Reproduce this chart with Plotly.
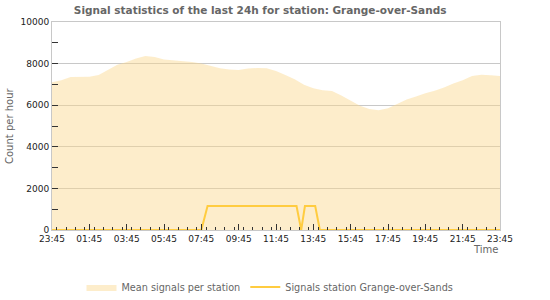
import plotly.graph_objects as go
import pandas as pd

# Mean signals per station (half-hourly, starting 23:45)
mean_times = pd.date_range("2024-01-01 23:45", "2024-01-02 23:45", freq="30min")
mean_values = [7100, 7200, 7360, 7370, 7370, 7450, 7720, 7950, 8080, 8250,
               8360, 8320, 8200, 8160, 8140, 8080, 8000, 7880, 7780, 7720,
               7690, 7760, 7790, 7780, 7650, 7450, 7250, 6980, 6820, 6720,
               6680, 6470, 6240, 5970, 5820, 5760, 5850, 6080, 6280, 6420,
               6580, 6700, 6850, 7040, 7200, 7400, 7460, 7440, 7400]

# Signals station Grange-over-Sands
station_times = ["2024-01-01 23:45", "2024-01-02 07:45", "2024-01-02 08:05",
                 "2024-01-02 12:51", "2024-01-02 13:06", "2024-01-02 13:18",
                 "2024-01-02 13:51", "2024-01-02 14:06", "2024-01-02 23:45"]
station_values = [0, 0, 1150, 1150, 0, 1150, 1150, 0, 0]

title_text = "Signal statistics of the last 24h for station: Grange-over-Sands"

fig = go.Figure()
fig.add_trace(go.Scatter(
    x=mean_times, y=mean_values, name="Mean signals per station",
    mode="lines", line=dict(width=0, color="rgba(250,215,140,0.45)"),
    fill="tozeroy", fillcolor="rgba(250,215,140,0.45)",
))
fig.add_trace(go.Scatter(
    x=pd.to_datetime(station_times), y=station_values,
    name="Signals station Grange-over-Sands",
    mode="lines", line=dict(width=2, color="#FFCC40"),
))

fig.update_layout(
    width=550, height=300,
    margin=dict(l=52, r=50, t=22, b=70, autoexpand=False),
    paper_bgcolor="white", plot_bgcolor="white",
    font=dict(family="DejaVu Sans", size=9, color="#222"),
    title=dict(text=title_text, x=0.473, xanchor="center", y=0.965, yanchor="middle",
               font=dict(family="DejaVu Sans", size=10.5, color="#666", weight="bold")),
    showlegend=True,
    legend=dict(orientation="h", x=0.4866, xanchor="center", yref="container",
                y=0.043, yanchor="middle",
                font=dict(family="DejaVu Sans", size=9.7, color="#666"),
                itemwidth=30, traceorder="normal"),
    annotations=[
        dict(text="Time", xref="paper", yref="paper", x=1.0, y=-0.06,
             xanchor="right", yanchor="top", showarrow=False,
             font=dict(size=10, color="#666")),
        dict(text="Count per hour", xref="paper", yref="paper", x=-0.096, y=0.5,
             xanchor="center", yanchor="middle", textangle=-90, showarrow=False,
             font=dict(size=10, color="#666")),
    ],
)
fig.update_xaxes(
    type="date",
    range=[mean_times[0], mean_times[-1]],
    tick0=mean_times[0], dtick=7200000, tickformat="%H:%M",
    ticks="inside", ticklen=6, tickcolor="#333",
    minor=dict(dtick=1800000, ticks="inside", ticklen=3, tickcolor="#333"),
    showgrid=False, showline=True, linecolor="#c8c8c8", linewidth=1, mirror=True,
    tickfont=dict(size=9, color="#222"), automargin=False,
)
fig.update_yaxes(
    range=[0, 10000], dtick=2000, tick0=0, tickformat="d",
    ticks="inside", ticklen=6, tickcolor="#333",
    minor=dict(dtick=1000, ticks="inside", ticklen=6, tickcolor="#333", showgrid=False),
    showgrid=True, gridcolor="#c8c8c8",
    showline=True, linecolor="#c8c8c8", linewidth=1, mirror=True,
    zeroline=False,
    tickfont=dict(size=9, color="#222"), automargin=False,
)

fig.write_html("out.html")
